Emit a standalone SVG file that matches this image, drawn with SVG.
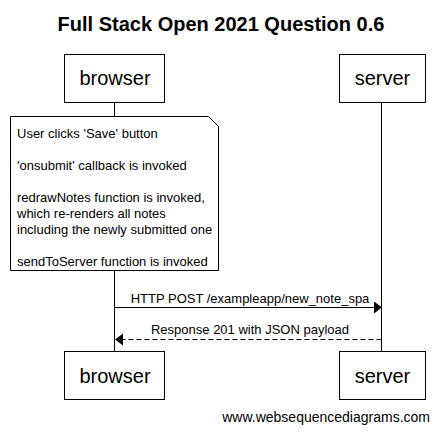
<svg xmlns="http://www.w3.org/2000/svg" width="440" height="434" viewBox="0 0 440 434">
<style>
  text { font-family: "Liberation Sans", Arial, sans-serif; fill: #000; }
  .title { font-size: 20px; font-weight: bold; text-anchor: middle; }
  .actor rect { fill: #fff; stroke: #000; stroke-width: 1; }
  .actor text { font-size: 20px; text-anchor: middle; }
  .life { stroke: #000; stroke-width: 1; fill: none; }
  .note path { fill: #fff; stroke: #000; stroke-width: 1; }
  .note text { font-size: 13px; }
  .msg { stroke: #000; stroke-width: 1; fill: none; }
  .dash { stroke-dasharray: 5 3; }
  .head { fill: #000; stroke: none; }
  .lbl { font-size: 13px; text-anchor: middle; }
  .foot { font-size: 14px; text-anchor: end; }
</style>
<rect width="440" height="434" fill="#fff"/>
<text class="title" x="221" y="31">Full Stack Open 2021 Question 0.6</text>

<g id="lifelines">
  <line class="life" x1="114.5" y1="102.5" x2="114.5" y2="351"/>
  <line class="life" x1="381.5" y1="102.5" x2="381.5" y2="351"/>
</g>

<g id="browser-top" class="actor">
  <rect x="64.5" y="54.5" width="100" height="48"/>
  <text x="115" y="85">browser</text>
</g>
<g id="server-top" class="actor">
  <rect x="339.5" y="54.5" width="86" height="48"/>
  <text x="382.5" y="85">server</text>
</g>

<g id="note" class="note">
  <path d="M10.5,116.5 H208.5 L218.5,126.5 V270.5 H10.5 Z"/>
  <text x="17" y="138">User clicks 'Save' button</text>
  <text x="17" y="170">'onsubmit' callback is invoked</text>
  <text x="17" y="202">redrawNotes function is invoked,</text>
  <text x="17" y="218">which re-renders all notes</text>
  <text x="17" y="234">including the newly submitted one</text>
  <text x="17" y="266">sendToServer function is invoked</text>
</g>

<g id="connectors">
  <g id="msg1">
    <line class="msg" x1="114.5" y1="307.5" x2="375" y2="307.5"/>
    <polygon class="head" points="374,301.5 382,307.5 374,313.5"/>
    <text class="lbl" x="250" y="303">HTTP POST /exampleapp/new_note_spa</text>
  </g>
  <g id="msg2">
    <line class="msg dash" x1="381.5" y1="339.5" x2="122" y2="339.5"/>
    <polygon class="head" points="123,333.5 115,339.5 123,345.5"/>
    <text class="lbl" x="250" y="334">Response 201 with JSON payload</text>
  </g>
</g>

<g id="browser-bottom" class="actor">
  <rect x="64.5" y="351.5" width="100" height="48"/>
  <text x="115" y="383">browser</text>
</g>
<g id="server-bottom" class="actor">
  <rect x="339.5" y="351.5" width="86" height="48"/>
  <text x="382.5" y="383">server</text>
</g>

<text class="foot" x="430" y="422">www.websequencediagrams.com</text>
</svg>
